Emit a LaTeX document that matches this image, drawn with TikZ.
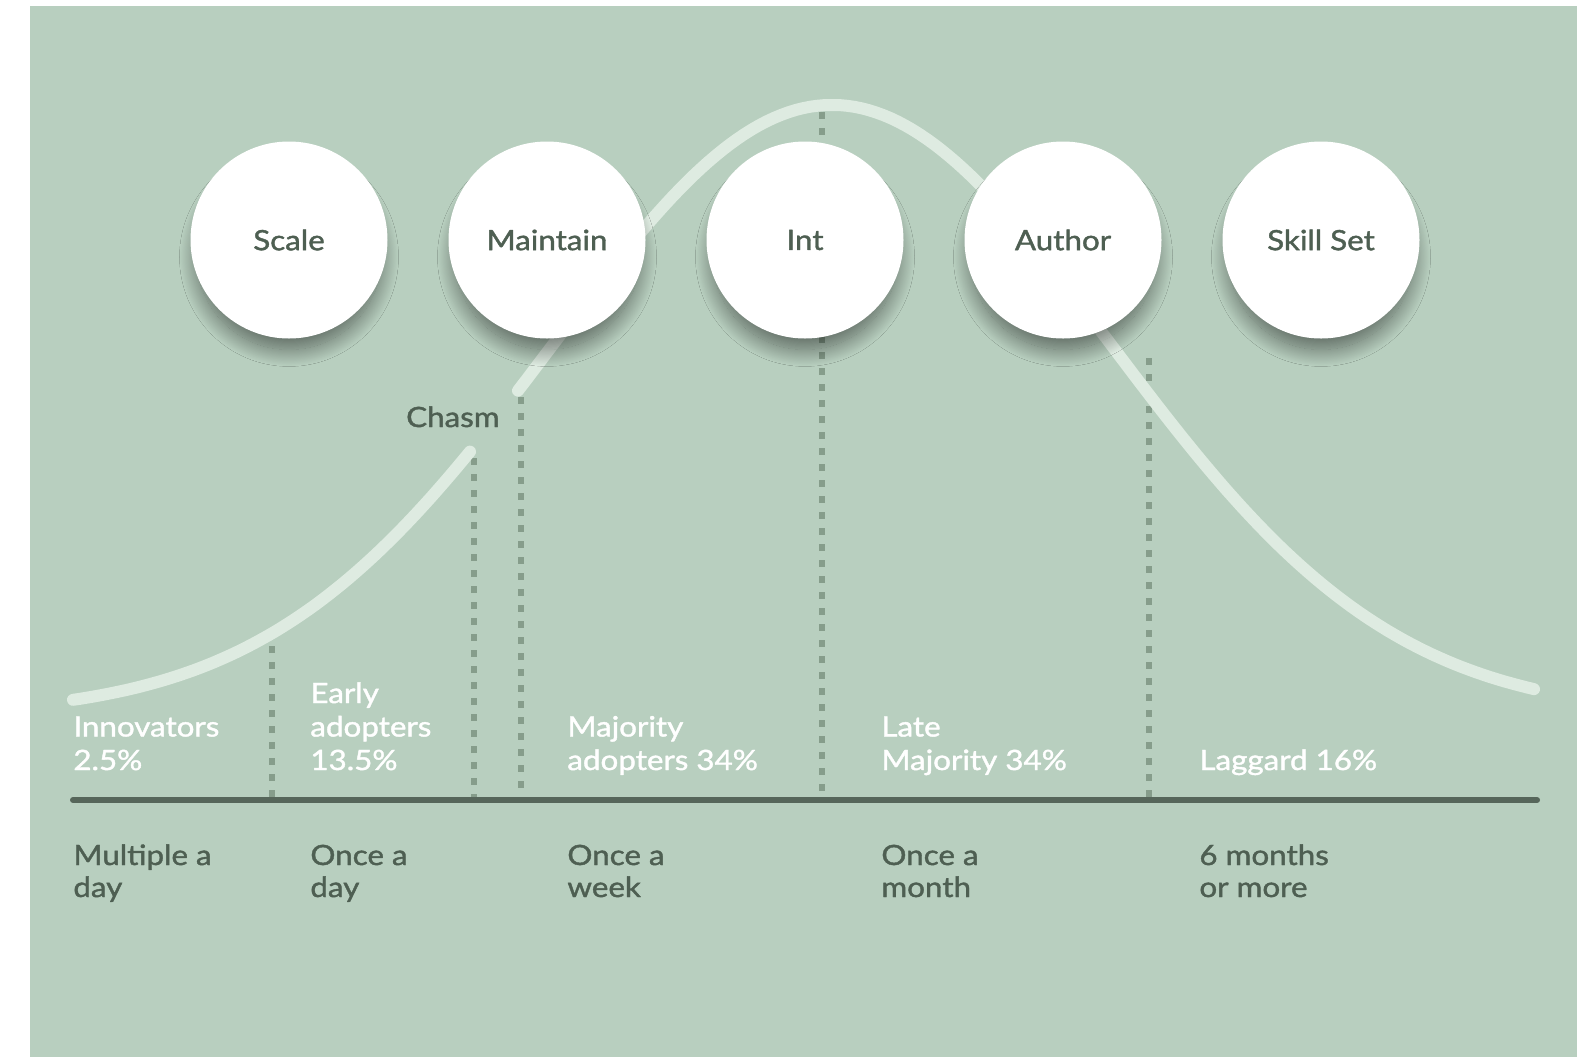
\documentclass[tikz,border=0pt]{standalone}
\usepackage{fontspec}
\newfontfamily\chartfont{Lato}[FakeBold=1.4,FakeStretch=1.12]
\usepackage{tikz}
\usetikzlibrary{positioning,shadows.blur}
\definecolor{panel}{HTML}{B8CFBF}
\definecolor{bellline}{HTML}{DEEBE1}
\definecolor{guidegreen}{HTML}{869D8B}
\definecolor{axisgreen}{HTML}{56665A}
\definecolor{inkgreen}{HTML}{4E5F52}
\tikzset{
  stage/.style={circle,fill=white,minimum size=98.5pt,inner sep=0pt,
    text=inkgreen,font=\chartfont\fontsize{14}{16}\selectfont,
    blur shadow={shadow xshift=0pt,shadow yshift=-9pt,shadow scale=0.94,
      shadow blur radius=9pt,shadow blur steps=32,shadow opacity=50}},
  segment/.style={anchor=base west,align=left,inner sep=0pt,text=white,
    font=\chartfont\fontsize{14}{16.75}\selectfont},
  cadence/.style={segment,text=inkgreen,
    font=\chartfont\fontsize{14}{16}\selectfont},
  guide/.style={guidegreen,line width=3.3pt,dash pattern=on 3.3pt off 4.7pt},
  bell/.style={bellline,line width=6pt,line cap=round,line join=round}
}

\begin{document}
\begin{tikzpicture}[x=0.5pt,y=-0.5pt,line cap=round,line join=round]
  \useasboundingbox (0,0) rectangle (1590,1057);
  \fill[panel] (30,6) rectangle (1577,1057);

  % bell parameters (centre, base, height, width)
  \def\mu{832}\def\base{715}\def\amp{610}\def\wid{395}

  % guides between the groups
  \foreach \gx/\gtop in {272/630,474/458,521/397,822/112,1149/358}
    \draw[guide,line cap=butt] (\gx,\gtop) -- (\gx,797);

  % adoption curve, broken at the chasm
  \draw[bell,domain=73:470,samples=60]
    plot(\x,{\base-\amp*exp(-((\x-\mu)/\wid)^2)});
  \draw[bell,domain=518:1534,samples=140]
    plot(\x,{\base-\amp*exp(-((\x-\mu)/\wid)^2)});

  % time axis
  \coordinate (axisL) at (73,800);
  \coordinate (axisR) at (1537,800);
  \draw[axisgreen,line width=3pt] (axisL) -- (axisR);

  % stages
  \node[stage] (scale) at (289,240) {Scale};
  \node[stage,right=30.1pt of scale] (maintain) {Maintain};
  \node[stage,right=30.1pt of maintain] (int) {Int};
  \node[stage,right=30.1pt of int] (author) {Author};
  \node[stage,right=30.1pt of author] (skills) {Skill Set};

  \node[segment,text=inkgreen,anchor=base east] (chasm) at (500,427) {Chasm};

  % groups
  \node[segment] (innov) at (73,770) {Innovators\\2.5\%};
  \node[segment] (early) at (310,770) {Early\\adopters\\13.5\%};
  \node[segment] (major) at (567,770) {Majority\\adopters 34\%};
  \node[segment] (late) at (881,770) {Late\\Majority 34\%};
  \node[segment] (lagg) at (1199,770) {Laggard 16\%};

  % how often
  \node[cadence] (innovT) at (73,897) {Multiple a\\day};
  \node[cadence] (earlyT) at (310,897) {Once a\\day};
  \node[cadence] (majorT) at (567,897) {Once a\\week};
  \node[cadence] (lateT) at (881,897) {Once a\\month};
  \node[cadence] (laggT) at (1199,897) {6 months\\or more};
\end{tikzpicture}
\end{document}
